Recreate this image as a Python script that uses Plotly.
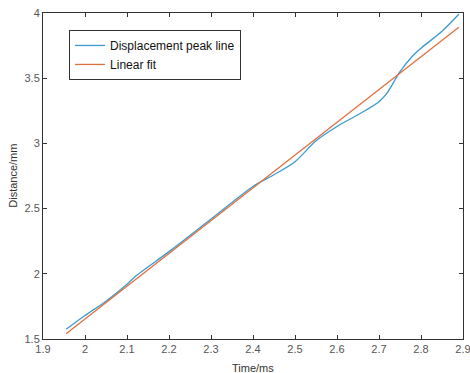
import plotly.graph_objects as go

time_ms = [1.955, 2.0, 2.05, 2.1, 2.12, 2.2, 2.3, 2.4, 2.45, 2.5, 2.55, 2.6, 2.65, 2.7, 2.72, 2.75, 2.78, 2.8, 2.85, 2.89]
displacement = [1.575, 1.68, 1.79, 1.92, 1.98, 2.17, 2.42, 2.67, 2.76, 2.86, 3.02, 3.13, 3.22, 3.32, 3.39, 3.55, 3.67, 3.73, 3.86, 3.99]
fit_time = [1.955, 2.89]
fit_dist = [1.54, 3.89]

x_ticks = [1.9, 2.0, 2.1, 2.2, 2.3, 2.4, 2.5, 2.6, 2.7, 2.8, 2.9]
x_labels = ["1.9", "2", "2.1", "2.2", "2.3", "2.4", "2.5", "2.6", "2.7", "2.8", "2.9"]
y_ticks = [1.5, 2.0, 2.5, 3.0, 3.5, 4.0]
y_labels = ["1.5", "2", "2.5", "3", "3.5", "4"]

FONT = "Liberation Sans, Arial, sans-serif"

fig = go.Figure()
fig.add_trace(go.Scatter(x=time_ms, y=displacement, mode="lines", name="Displacement peak line",
                         line=dict(color="#3a9ad0", width=1.3, shape="spline", smoothing=0.8)))
fig.add_trace(go.Scatter(x=fit_time, y=fit_dist, mode="lines", name="Linear fit",
                         line=dict(color="#e0703f", width=1.3)))

axis_common = dict(showline=True, linecolor="#333333", linewidth=1, mirror="ticks",
                   ticks="inside", ticklen=4, tickcolor="#333333", showgrid=False, zeroline=False,
                   automargin=False, ticklabeloverflow="allow",
                   tickfont=dict(family=FONT, size=11, color="#555555"))
fig.update_layout(
    width=470, height=373,
    margin=dict(l=43, r=7, t=13, b=34),
    paper_bgcolor="white", plot_bgcolor="white",
    xaxis=dict(range=[1.9, 2.9], tickvals=x_ticks, ticktext=x_labels, **axis_common),
    yaxis=dict(range=[1.5, 4.0], tickvals=y_ticks, ticktext=y_labels, **axis_common),
    legend=dict(x=0.062, y=0.948, xanchor="left", yanchor="top", bgcolor="white",
                bordercolor="#333333", borderwidth=1,
                font=dict(family=FONT, size=12, color="#111111"),
                tracegroupgap=0, itemwidth=30),
    showlegend=True,
    annotations=[
        dict(text="Time/ms", xref="paper", yref="paper", x=0.5, y=-0.089, xanchor="center", yanchor="middle",
             showarrow=False, font=dict(family=FONT, size=11, color="#333333")),
        dict(text="Distance/mm", xref="paper", yref="paper", x=-0.072, y=0.5, xanchor="center", yanchor="middle",
             textangle=-90, showarrow=False, font=dict(family=FONT, size=11, color="#333333")),
    ],
)
fig.write_html("out.html", config={"displayModeBar": False},
               post_script="document.documentElement.style.margin='0';document.body.style.margin='0';document.body.style.overflow='hidden';")
